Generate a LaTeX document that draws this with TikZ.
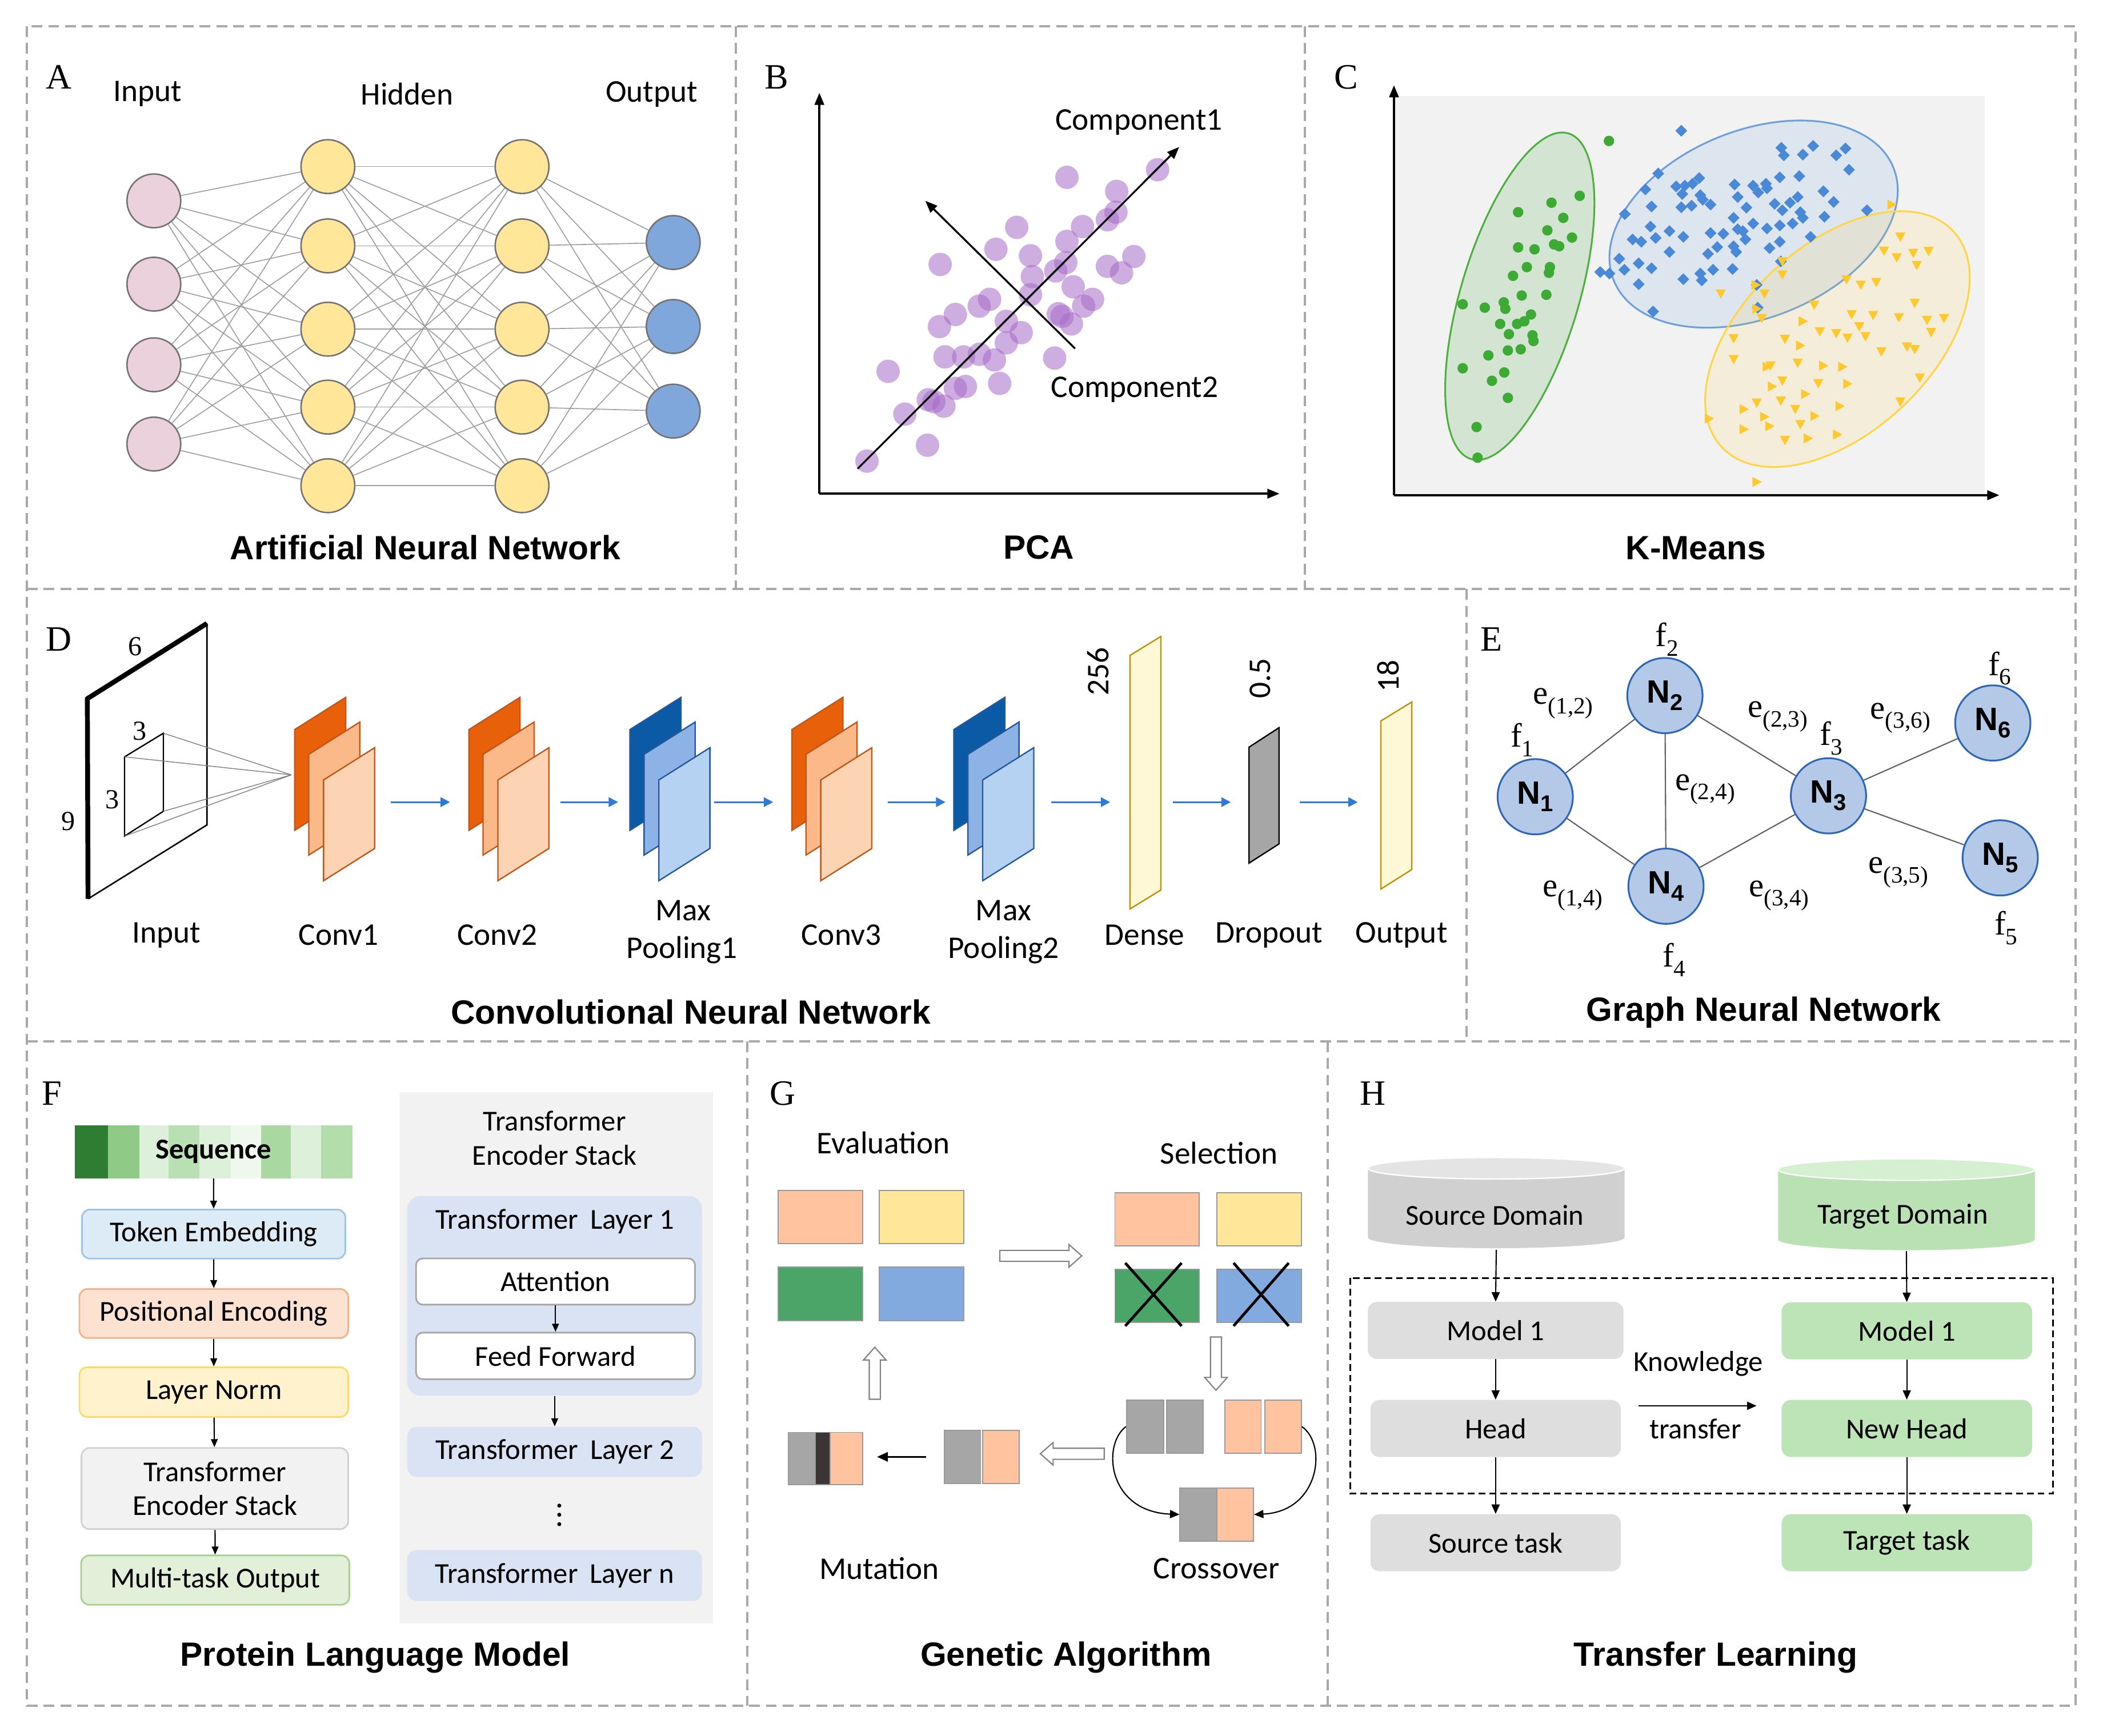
\documentclass[tikz,border=0pt]{standalone}
\usepackage{fontspec}
\setmainfont{Carlito}
\newfontfamily\hfont{Liberation Sans}
\newfontfamily\tfont{Liberation Serif}
\usetikzlibrary{arrows.meta}
\definecolor{dashgray}{HTML}{A9A9A9}
\definecolor{pnk}{HTML}{EAD1DC}
\definecolor{ylw}{HTML}{FFE699}
\definecolor{blu}{HTML}{7FA7DC}
\definecolor{nedge}{HTML}{767171}
\definecolor{annline}{HTML}{9E9E9E}
\definecolor{pcol}{HTML}{A66BC9}
\definecolor{kbg}{HTML}{F2F2F2}
\definecolor{kgreen}{HTML}{3DAA35}
\definecolor{kblue}{HTML}{4A88D8}
\definecolor{kyel}{HTML}{FFC92E}
\definecolor{kgedge}{HTML}{4DAF3E}
\definecolor{kbedge}{HTML}{6E9FDB}
\definecolor{kyedge}{HTML}{FFD445}
\definecolor{or1}{HTML}{E9600A}
\definecolor{or2}{HTML}{FBB889}
\definecolor{or3}{HTML}{FDD4B3}
\definecolor{ore}{HTML}{C0561A}
\definecolor{bl1}{HTML}{0B5AA6}
\definecolor{bl2}{HTML}{8DB3E6}
\definecolor{bl3}{HTML}{B6D2F2}
\definecolor{ble}{HTML}{24589A}
\definecolor{dns}{HTML}{FFF8D6}
\definecolor{dnse}{HTML}{BF9000}
\definecolor{cnnblue}{HTML}{2F7AD6}
\definecolor{gfill}{HTML}{B4C8E8}
\definecolor{gedge}{HTML}{2E66B4}
\definecolor{gline}{HTML}{606060}
\definecolor{tokf}{HTML}{DDEBF7}
\definecolor{toke}{HTML}{9DC3E6}
\definecolor{posf}{HTML}{FDE1D1}
\definecolor{pose}{HTML}{F4B183}
\definecolor{lnf}{HTML}{FFF2CC}
\definecolor{lne}{HTML}{FFD966}
\definecolor{tesf}{HTML}{F2F2F2}
\definecolor{tese}{HTML}{D0D0D0}
\definecolor{mof}{HTML}{E2F0D9}
\definecolor{moe}{HTML}{A9D18E}
\definecolor{layf}{HTML}{DAE3F3}
\definecolor{ffe}{HTML}{A6A6A6}
\definecolor{sq1}{HTML}{2E7D32}
\definecolor{sq2}{HTML}{8FCB87}
\definecolor{sq3}{HTML}{DDF0DA}
\definecolor{sq4}{HTML}{B9E0B2}
\definecolor{sq6}{HTML}{EEF8EC}
\definecolor{sq7}{HTML}{A9D8A1}
\definecolor{sq9}{HTML}{B3DDAB}
\definecolor{gor}{HTML}{FFC49F}
\definecolor{gyl}{HTML}{FFE699}
\definecolor{ggr}{HTML}{4BA569}
\definecolor{gbl}{HTML}{82AADE}
\definecolor{ggy}{HTML}{A6A6A6}
\definecolor{gbk}{HTML}{3B3536}
\definecolor{grecte}{HTML}{999999}
\definecolor{harrowc}{HTML}{808080}
\definecolor{hgray}{HTML}{DEDEDE}
\definecolor{hcylb}{HTML}{D0D0D0}
\definecolor{hcylt}{HTML}{E4E4E4}
\definecolor{hgreen}{HTML}{BDE4B6}
\definecolor{hcylg}{HTML}{B9E1B3}
\definecolor{hcylgt}{HTML}{D5EFD1}
\newcommand\lbl{\fontsize{23.5}{28}\selectfont}
\newcommand\flbl{\fontsize{21.5}{26}\selectfont}
\newcommand\ttl{\hfont\bfseries\fontsize{25}{30}\selectfont}
\newcommand\ltr{\tfont\fontsize{26.5}{30}\selectfont}
\newcommand\dnum{\tfont\fontsize{20.5}{24}\selectfont}
\newcommand\gfnt{\tfont\fontsize{25}{28}\selectfont}
\newcommand\nfnt{\hfont\bfseries\fontsize{24}{28}\selectfont}
\newcommand\nlab[1]{N\raisebox{-5.5pt}{\fontsize{17}{17}\selectfont #1}}
\newcommand\subl[2]{#1\raisebox{-7pt}{\fontsize{17.5}{18}\selectfont #2}}
\newcommand\cnnsheet[4]{\draw[fill=#3,draw=#4,line width=1pt] (#1,#2) -- (#1,#2-75) -- (#1+38,#2-99) -- (#1+38,#2-24) -- cycle;}
\newcommand\cnnstack[5]{\cnnsheet{#1}{618}{#2}{#5}\cnnsheet{#1+10.5}{636.4}{#3}{#5}\cnnsheet{#1+21.5}{655.5}{#4}{#5}}
\newcommand\harrow[4]{\begin{scope}[shift={(#1,#2)},rotate=#4]
\draw[fill=white,draw=harrowc,line width=0.9pt] (0pt,-4.1pt) -- ({(#3-9.5)*1pt},-4.1pt) -- ({(#3-9.5)*1pt},-8.4pt) -- ({#3*1pt},0pt) -- ({(#3-9.5)*1pt},8.4pt) -- ({(#3-9.5)*1pt},4.1pt) -- (0pt,4.1pt) -- cycle;
\end{scope}}
\begin{document}
\begin{tikzpicture}[x=1pt,y=-1pt,
 panel/.style={draw=dashgray,line width=1.8pt,dash pattern=on 8pt off 4.5pt},
 neuron/.style={circle,minimum size=40pt,inner sep=0pt,draw=nedge,line width=1.1pt},
 annl/.style={draw=annline,line width=0.7pt},
 axisarr/.style={line width=1.6pt,-{Triangle[length=9pt,width=7pt]}},
 comparr/.style={line width=1.4pt,-{Triangle[length=9pt,width=7pt]}},
 cnnarr/.style={draw=cnnblue,line width=1.4pt,-{Triangle[length=7pt,width=7pt]}},
 gnode/.style={circle,minimum size=56pt,inner sep=0pt,fill=gfill,draw=gedge,line width=1.3pt,font=\nfnt},
 gl/.style={draw=gline,line width=0.9pt},
 pbox/.style={rounded corners=6pt,line width=1.2pt,inner sep=0pt,font=\flbl,minimum height=36.5pt},
 farr/.style={line width=0.9pt,-{Triangle[length=6pt,width=5pt]}},
 grect/.style={draw=grecte,line width=0.8pt,inner sep=0pt,minimum height=39.6pt},
 hbox/.style={rounded corners=7pt,inner sep=0pt,font=\flbl,minimum width=188pt,minimum height=42.5pt},
 harr/.style={line width=0.9pt,-{Triangle[length=7pt,width=6pt]}}]
\useasboundingbox (0,0) rectangle (1568,1292);
\fill[white] (0,0) rectangle (1568,1292);
% ---------- panel frames
\draw[panel] (20,19.5) rectangle (1544.5,1269.5);
\draw[panel] (20,438.5) -- (1544.5,438.5);
\draw[panel] (20,775) -- (1544.5,775);
\draw[panel] (547.5,19.5) -- (547.5,438.5);
\draw[panel] (971,19.5) -- (971,438.5);
\draw[panel] (1091.5,438.5) -- (1091.5,775);
\draw[panel] (556,775) -- (556,1269.5);
\draw[panel] (988,775) -- (988,1269.5);
% ---------- A: ANN
\node[font=\ltr] (lA) at (44,57.5) {A};
\node[font=\lbl] (aIn) at (110,70) {Input};
\node[font=\lbl] (aHid) at (303,70) {Hidden};
\node[font=\lbl] (aOut) at (485,70) {Output};
\foreach \i/\y in {1/149.5,2/211.5,3/271.5,4/330.5} \node[neuron,fill=pnk] (a0\i) at (114.5,\y) {};
\foreach \i/\y in {1/124,2/183,3/245,4/303,5/361.5} {
  \node[neuron,fill=ylw] (a1\i) at (244,\y) {};
  \node[neuron,fill=ylw] (a2\i) at (388.5,\y) {};}
\foreach \i/\y in {1/180.5,2/243,3/306} \node[neuron,fill=blu] (a3\i) at (501,\y) {};
\foreach \i in {1,...,4}{\foreach \j in {1,...,5}{\draw[annl] (a0\i) -- (a1\j);}}
\foreach \i in {1,...,5}{\foreach \j in {1,...,5}{\draw[annl] (a1\i) -- (a2\j);}}
\foreach \i in {1,...,5}{\foreach \j in {1,...,3}{\draw[annl] (a2\i) -- (a3\j);}}
\node[font=\ttl] (tA) at (316.5,407.5) {Artificial Neural Network};
% ---------- B: PCA
\node[font=\ltr] (lB) at (578,57.5) {B};
\begin{scope}[shift={(544.2pt,0pt)},x=0.2766pt,y=-0.282pt]
\foreach \px/\py in {903/468,1147/448,1037/505,1035/560,1012/580,945/598,768/600,903/637,712/658,805/675,562/698,900/693,873/715,1012/703,1083/677,1050/720,810/730,920/757,972/790,948/808,805/778,695/790,667/808,603/830,880/828,890/835,915/855,740/848,780/878,560/862,740/905,575/942,625/942,668/935,708/950,870/945,422/980,603/1025,630/1020,722/1012,530/1055,545/1060,572/1072,467/1093,528/1175,365/1217}
  \fill[pcol,opacity=0.55] (\px,\py) circle[radius=8.7pt];
\coordinate (bo) at (237,1303); \coordinate (by) at (237,245); \coordinate (bx) at (1475,1303);
\draw[axisarr] (bo) -- (by);
\draw[axisarr] (bo) -- (bx);
\coordinate (c1s) at (340,1237); \coordinate (c1e) at (1205,388);
\coordinate (c2s) at (925,920); \coordinate (c2e) at (522,530);
\draw[comparr] (c1s) -- (c1e);
\draw[comparr] (c2s) -- (c2e);
\node[font=\lbl] (cmp1) at (1097,322) {Component1};
\node[font=\lbl] (cmp2) at (1085,1028) {Component2};
\end{scope}
\node[font=\ttl] (tB) at (773,407.5) {PCA};
% ---------- C: K-means
\node[font=\ltr] (lC) at (1002,57.5) {C};
\begin{scope}[shift={(969.4pt,0pt)},x=0.3818pt,y=-0.282pt]
\fill[kbg] (178,253) rectangle (1330,1305);
\end{scope}
\draw[draw=kgedge,line width=1.3pt,fill=kgreen,fill opacity=0.17,rotate around={73.4:(1131,220.5)}] (1131,220.5) ellipse[x radius=126.5pt,y radius=44pt];
\draw[draw=kbedge,line width=1.3pt,fill=kblue,fill opacity=0.12,rotate around={22:(1305,166.8)}] (1305,166.8) ellipse[x radius=112.2pt,y radius=69.7pt];
\draw[draw=kyedge,line width=1.3pt,fill=kyel,fill opacity=0.12,rotate around={43:(1367.4,252.4)}] (1367.4,252.4) ellipse[x radius=117.8pt,y radius=69.8pt];
\begin{scope}[shift={(969.4pt,0pt)},x=0.3818pt,y=-0.282pt]
\foreach \px/\py in {597/372,540/517,485/535,420/560,508/575,477/608,525/627,420/653,452/658,490/645,500/650,437/705,482/705,410/728,480/720,427/780,475/778,312/803,355/812,392/798,395/815,445/830,432/848,385/855,418/855,402/882,448/885,450/900,400/925,425/922,362/938,312/972,393/983,369/1005,400/1050,339/1127,341/1208}
  \fill[kgreen] (\px,\py) circle[radius=3.9pt];
\foreach \px/\py in {738/345,933/390,938/410,995/385,975/408,1058/392,1040/410,1065/448,693/458,968/465,930/468,773/470,760/485,745/490,728/492,842/487,878/490,903/485,905/497,888/508,668/500,740/512,775/515,780/527,848/520,1015/505,965/520,950/535,1035/533,920/538,680/545,738/547,758/543,795/540,865/548,935/555,970/560,1100/555,628/565,840/575,1017/572,975/575,878/590,930/595,955/590,678/598,715/610,795/615,820/617,848/605,858/610,905/603,688/628,742/625,643/632,660/638,863/632,930/638,990/625,808/652,840/650,845/665,910/655,715/665,790/670,617/683,932/690,655/695,627/712,680/708,580/718,598/722,800/712,838/710,775/722,742/737,778/740,655/750,885/752,683/822,887/812}
  \fill[kblue] (\px,\py) +(0pt,4.4pt) -- +(4.4pt,0pt) -- +(0pt,-4.4pt) -- +(-4.4pt,0pt) -- cycle;
\foreach \px/\py in {1165/625,1133/662,1158/680,1190/668,1220/663,1197/700,935/690,935/725,1060/738,1088/752,1118/745,815/775,900/775,1193/800,997/805,1070/830,1112/832,1162/838,1217/845,1250/840,895/840,1085/862,1040/880,1097/888,1225/877,1008/875,840/893,940/895,1062/892,1178/915,1193/922,1128/928,840/948,965/958,912/965,1203/997,935/1005,1005/1012,1165/1060,932/1058,885/1063,960/1080,970/1120,940/1162}
  \fill[kyel] (\px,\py) +(-3.8pt,3.2pt) -- +(3.8pt,3.2pt) -- +(0pt,-3.8pt) -- cycle;
\foreach \px/\py in {1148/540,883/752,885/815,975/848,970/912,905/968,1015/965,1052/968,915/1020,1062/1013,980/1040,860/1080,1047/1072,900/1100,998/1098,792/1105,860/1133,910/1125,985/1157,1042/1147,885/1272}
  \fill[kyel] (\px,\py) +(-3.2pt,3.8pt) -- +(3.8pt,0pt) -- +(-3.2pt,-3.8pt) -- cycle;
\coordinate (ko) at (178,1307); \coordinate (ky) at (178,225); \coordinate (kx) at (1358,1307);
\draw[axisarr] (ko) -- (ky);
\draw[axisarr] (ko) -- (kx);
\end{scope}
\node[font=\ttl] (tC) at (1262,408) {K-Means};
% ---------- D: CNN
\node[font=\ltr] (lD) at (44,476) {D};
\draw[line width=1.1pt] (154,464) -- (154,614) -- (65.5,669);
\draw[line width=3.6pt,line join=round] (65.5,669) -- (65,520) -- (154,464);
\coordinate (sqA) at (121.6,545.7); \coordinate (sqB) at (92.7,563.3);
\coordinate (sqC) at (121.6,603.8); \coordinate (sqD) at (92.7,622.3);
\coordinate (apex) at (216.8,576.7);
\draw[line width=1pt] (sqB) -- (sqA) -- (sqC) -- (sqD) -- cycle;
\foreach \c in {sqA,sqB,sqC,sqD} \draw[gray,line width=0.6pt] (\c) -- (apex);
\node[font=\dnum] (d6) at (100.5,481) {6};
\node[font=\dnum] (d9) at (51,611.4) {9};
\node[font=\dnum] (d3a) at (104,544) {3};
\node[font=\dnum] (d3b) at (83.5,595) {3};
\cnnstack{219.3}{or1}{or2}{or3}{ore}
\cnnstack{349}{or1}{or2}{or3}{ore}
\cnnstack{468.8}{bl1}{bl2}{bl3}{ble}
\cnnstack{589.3}{or1}{or2}{or3}{ore}
\cnnstack{709.8}{bl1}{bl2}{bl3}{ble}
\draw[fill=dns,draw=dnse,line width=1pt] (840.9,676.5) -- (840.9,487.8) -- (863.9,473.7) -- (863.9,662.4) -- cycle;
\draw[fill=ffe,draw=black,line width=1pt] (929.5,642.4) -- (929.5,556.1) -- (951.8,541.6) -- (951.8,628.1) -- cycle;
\draw[fill=dns,draw=dnse,line width=1pt] (1027.6,661.7) -- (1027.6,536.6) -- (1050.6,522.5) -- (1050.6,647.2) -- cycle;
\foreach \a/\b [count=\k] in {290.8/334.9,417/460,531.5/575.4,660.7/703.6,782.3/826.2,872.7/915.9,967.2/1010.4}{
  \coordinate (ca\k) at (\a,597); \coordinate (cb\k) at (\b,597);
  \draw[cnnarr] (ca\k) -- (cb\k);}
\node[font=\lbl,rotate=90] (n256) at (817,499.7) {256};
\node[font=\lbl,rotate=90] (n05) at (938,505) {0.5};
\node[font=\lbl,rotate=90] (n18) at (1033,503) {18};
\node[font=\lbl] (dIn) at (124,696) {Input};
\node[font=\lbl] (dC1) at (252,696) {Conv1};
\node[font=\lbl] (dC2) at (370,696) {Conv2};
\node[font=\lbl] (dM1a) at (508.5,677.6) {Max};
\node[font=\lbl] (dM1b) at (507.6,706.9) {Pooling1};
\node[font=\lbl] (dC3) at (626,696) {Conv3};
\node[font=\lbl] (dM2a) at (746.8,677.6) {Max};
\node[font=\lbl] (dM2b) at (746.8,706.9) {Pooling2};
\node[font=\lbl] (dDe) at (851.8,696) {Dense};
\node[font=\lbl] (dDr) at (944.5,696) {Dropout};
\node[font=\lbl] (dOu) at (1043,696) {Output};
\node[font=\ttl] (tD) at (514,753) {Convolutional Neural Network};
% ---------- E: GNN
\node[font=\ltr] (lE) at (1110,476) {E};
\node[gnode] (n1) at (1142.5,593) {\nlab{1}};
\node[gnode] (n2) at (1239,517.7) {\nlab{2}};
\node[gnode] (n3) at (1360.7,592.3) {\nlab{3}};
\node[gnode] (n4) at (1239.8,659.6) {\nlab{4}};
\node[gnode] (n5) at (1488.5,638.5) {\nlab{5}};
\node[gnode] (n6) at (1483,538.1) {\nlab{6}};
\draw[gl] (n1) -- (n2);
\draw[gl] (n1) -- (n4);
\draw[gl] (n2) -- (n4);
\draw[gl] (n2) -- (n3);
\draw[gl] (n4) -- (n3);
\draw[gl] (n3) -- (n6);
\draw[gl] (n3) -- (n5);
\node[font=\gfnt] (f1) at (1132.8,550.7) {\subl{f}{1}};
\node[font=\gfnt] (f2) at (1240.4,475.9) {\subl{f}{2}};
\node[font=\gfnt] (f3) at (1362.8,549.6) {\subl{f}{3}};
\node[font=\gfnt] (f4) at (1245.9,714.4) {\subl{f}{4}};
\node[font=\gfnt] (f5) at (1492.8,690.6) {\subl{f}{5}};
\node[font=\gfnt] (f6) at (1488.2,497.5) {\subl{f}{6}};
\node[font=\gfnt] (e12) at (1163.3,523.6) {\subl{e}{(1,2)}};
\node[font=\gfnt] (e23) at (1323,533.3) {\subl{e}{(2,3)}};
\node[font=\gfnt] (e24) at (1268.9,587.6) {\subl{e}{(2,4)}};
\node[font=\gfnt] (e36) at (1414.2,534.4) {\subl{e}{(3,6)}};
\node[font=\gfnt] (e14) at (1170.4,666.7) {\subl{e}{(1,4)}};
\node[font=\gfnt] (e34) at (1323.9,666.7) {\subl{e}{(3,4)}};
\node[font=\gfnt] (e35) at (1412.7,649.4) {\subl{e}{(3,5)}};
\node[font=\ttl] (tE) at (1312.6,753.5) {Graph Neural Network};
% ---------- F: PLM
\node[font=\ltr] (lF) at (38.7,814) {F};
\foreach \a/\b/\c in {55.5/80.5/sq1,80.5/103.8/sq2,103.8/125.3/sq3,125.3/148.5/sq4,148.5/171.8/sq3,171.8/194.3/sq6,194.3/216.5/sq7,216.5/239.1/sq3,239.1/262.3/sq9}
  \fill[\c] (\a,837.5) rectangle (\b,876.9);
\node[font=\flbl\bfseries,minimum width=206.8pt,minimum height=39.4pt,inner sep=0pt] (seq) at (158.9,857.2) {Sequence};
\node[pbox,fill=tokf,draw=toke,minimum width=196pt] (tok) at (159,918.5) {Token Embedding};
\node[pbox,fill=posf,draw=pose,minimum width=200pt] (pos) at (159.1,977.6) {Positional Encoding};
\node[pbox,fill=lnf,draw=lne,minimum width=200pt,minimum height=37pt] (lnm) at (159.1,1036.1) {Layer Norm};
\node[pbox,fill=tesf,draw=tese,minimum width=198.5pt,minimum height=60.4pt,align=center] (tes) at (159.9,1107.9) {Transformer\\[-1pt]Encoder Stack};
\node[pbox,fill=mof,draw=moe,minimum width=199.6pt,minimum height=36.7pt] (mto) at (160.2,1176) {Multi-task Output};
\draw[farr] (seq) -- (tok);
\draw[farr] (tok) -- (pos);
\draw[farr] (pos) -- (lnm);
\draw[farr] (lnm) -- (tes);
\draw[farr] (tes) -- (mto);
\fill[tesf] (297.1,812.8) rectangle (530.4,1208.2);
\node[font=\flbl] (fT1) at (412.7,834.2) {Transformer};
\node[font=\flbl] (fT2) at (412.7,859.7) {Encoder Stack};
\node[fill=layf,rounded corners=10pt,minimum width=219.4pt,minimum height=148.6pt,inner sep=0pt] (L1) at (412.8,964.4) {};
\node[font=\flbl] (L1t) at (412.8,909.2) {Transformer\hspace{4pt} Layer 1};
\node[fill=white,draw=ffe,line width=1.2pt,rounded corners=5pt,minimum width=207.6pt,minimum height=34.4pt,inner sep=0pt,font=\flbl] (att) at (413.4,953.8) {Attention};
\node[fill=white,draw=ffe,line width=1.2pt,rounded corners=5pt,minimum width=207.6pt,minimum height=34.7pt,inner sep=0pt,font=\flbl] (ffw) at (413.4,1009.2) {Feed Forward};
\draw[farr] (att) -- (ffw);
\node[fill=layf,rounded corners=7pt,minimum width=219.4pt,minimum height=37.3pt,inner sep=0pt,font=\flbl] (L2) at (412.8,1080.5) {Transformer\hspace{4pt} Layer 2};
\draw[farr] (L1) -- (L2);
\foreach \yy in {1120.6,1127.4,1134.4} \fill[black] (416.2,\yy) circle[radius=1.5pt];
\node[fill=layf,rounded corners=7pt,minimum width=219.4pt,minimum height=38pt,inner sep=0pt,font=\flbl] (Ln) at (412.8,1172.6) {Transformer\hspace{4pt} Layer n};
\node[font=\ttl] (tF) at (279.2,1233.6) {Protein Language Model};
% ---------- G: GA
\node[font=\ltr] (lG) at (582.6,814) {G};
\node[font=\lbl] (gEv) at (657.5,850.4) {Evaluation};
\node[font=\lbl] (gSe) at (907.1,858) {Selection};
\node[grect,fill=gor,minimum width=62.9pt] (eo) at (610.35,905.9) {};
\node[grect,fill=gyl,minimum width=62.9pt] (ey) at (685.65,905.9) {};
\node[grect,fill=ggr,minimum width=62.9pt,minimum height=40pt] (eg) at (610.35,962.9) {};
\node[grect,fill=gbl,minimum width=62.9pt,minimum height=40pt] (eb) at (685.65,962.9) {};
\node[grect,fill=gor,minimum width=62.6pt] (so) at (861,907.6) {};
\node[grect,fill=gyl,minimum width=62.6pt] (sy) at (937.05,907.6) {};
\node[grect,fill=ggr,minimum width=62.6pt] (sg) at (861,964.4) {};
\node[grect,fill=gbl,minimum width=62.6pt] (sb) at (937.05,964.4) {};
\draw[line width=2pt] (837.4,940) -- (879.3,986.9);
\draw[line width=2pt] (879.3,940) -- (837.4,986.9);
\draw[line width=2pt] (918,940) -- (959,986.9);
\draw[line width=2pt] (959,940) -- (918,986.9);
\harrow{744}{934.7}{61}{0}
\harrow{904.9}{995.1}{39.6}{-90}
\harrow{821.7}{1082}{47.5}{180}
\harrow{651}{1041.4}{38.7}{90}
\node[grect,fill=ggy,minimum width=27.6pt] (g1) at (852.1,1061.8) {};
\node[grect,fill=ggy,minimum width=27pt] (g2) at (881.7,1061.8) {};
\node[grect,fill=gor,minimum width=27.1pt] (o1) at (925,1061.8) {};
\node[grect,fill=gor,minimum width=27.1pt] (o2) at (954.9,1061.8) {};
\node[grect,fill=ggy,minimum width=27.6pt] (ch1) at (891.9,1127.2) {};
\node[grect,fill=gor,minimum width=27.1pt] (ch2) at (919.25,1127.2) {};
\draw[line width=0.9pt,-{Triangle[length=7pt,width=6pt]}] (g1.west) .. controls (820,1075) and (824,1125) .. (ch1.west);
\draw[line width=0.9pt,-{Triangle[length=7pt,width=6pt]}] (o2.east) .. controls (988,1075) and (982,1125) .. (ch2.east);
\node[grect,fill=ggy,minimum width=27.1pt] (off1) at (716.25,1084.3) {};
\node[grect,fill=gor,minimum width=27.1pt] (off2) at (744.75,1084.3) {};
\node[grect,fill=ggy,minimum width=19.9pt,minimum height=39pt] (mut1) at (596.85,1085.6) {};
\node[grect,fill=gbk,minimum width=10.8pt,minimum height=39pt] (mut2) at (612.2,1085.6) {};
\node[grect,fill=gor,minimum width=24.2pt,minimum height=39pt] (mut3) at (629.7,1085.6) {};
\draw[line width=1pt,-{Triangle[length=8pt,width=7pt]}] ([xshift=-13pt]off1.west) -- ([xshift=10.5pt]mut3.east |- off1.west);
\node[font=\lbl] (gMu) at (654.3,1167.5) {Mutation};
\node[font=\lbl] (gCr) at (905.2,1167.5) {Crossover};
\node[font=\ttl] (tG) at (793.3,1233.6) {Genetic Algorithm};
% ---------- H: transfer learning
\node[font=\ltr] (lH) at (1021.6,814) {H};
\fill[hcylb] (1018,869.5) -- (1018,921) arc[start angle=180,end angle=360,x radius=95.5pt,y radius=8pt] -- (1209,869.5) -- cycle;
\draw[fill=hcylt,draw=white,line width=1pt] (1113.5,869.5) ellipse[x radius=95.5pt,y radius=8pt];
\fill[hcylg] (1323.2,870.5) -- (1323.2,922.5) arc[start angle=180,end angle=360,x radius=95.5pt,y radius=8pt] -- (1514.2,870.5) -- cycle;
\draw[fill=hcylgt,draw=white,line width=1pt] (1418.7,870.5) ellipse[x radius=95.5pt,y radius=8pt];
\node[minimum width=191pt,minimum height=68pt,inner sep=0pt] (src) at (1113.5,896) {};
\node[minimum width=191pt,minimum height=68pt,inner sep=0pt] (tgt) at (1418.7,897) {};
\node[font=\flbl] (srct) at (1112.5,904.3) {Source Domain};
\node[font=\flbl] (tgtt) at (1416,905.3) {Target Domain};
\draw[black,line width=1.2pt,dash pattern=on 5pt off 3pt] (1004.9,951.2) rectangle (1527.9,1111.7);
\node[hbox,fill=hgray,minimum width=190.3pt] (m1l) at (1113,990.2) {Model 1};
\node[hbox,fill=hgray,minimum width=186.5pt] (hdl) at (1113,1063.2) {Head};
\node[hbox,fill=hgray,minimum width=186.5pt] (stl) at (1113,1148.2) {Source task};
\node[hbox,fill=hgreen,minimum width=186.5pt] (m1r) at (1419,990.5) {Model 1};
\node[hbox,fill=hgreen,minimum width=186.5pt] (hdr) at (1419,1063.2) {New Head};
\node[hbox,fill=hgreen,minimum width=186.5pt] (str) at (1419,1148.2) {Target task};
\draw[harr] (src.south) -- (m1l.north);
\draw[harr] (m1l) -- (hdl);
\draw[harr] (hdl) -- (stl);
\draw[harr] (tgt.south) -- (m1r.north);
\draw[harr] (m1r) -- (hdr);
\draw[harr] (hdr) -- (str);
\coordinate (kt1) at (1219.3,1046.3); \coordinate (kt2) at (1307.2,1046.3);
\draw[harr] (kt1) -- (kt2);
\node[font=\flbl] (hKn) at (1263.8,1014.9) {Knowledge};
\node[font=\flbl] (hTr) at (1261.6,1063.5) {transfer};
\node[font=\ttl] (tH) at (1276.8,1233.6) {Transfer Learning};
\end{tikzpicture}
\end{document}
